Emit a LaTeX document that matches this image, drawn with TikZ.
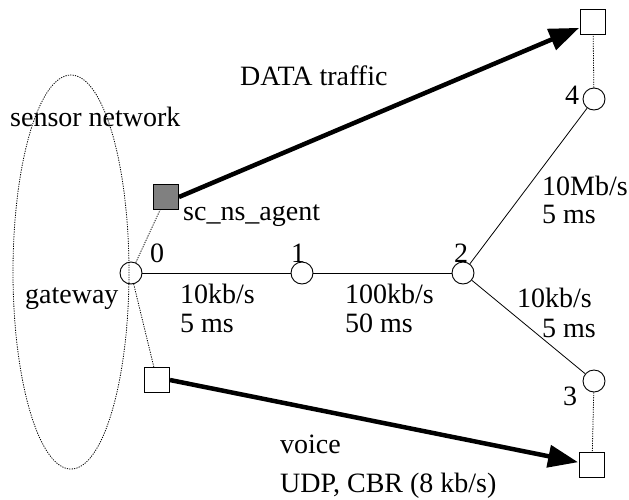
\documentclass[tikz,border=0pt]{standalone}
\usepackage{fontspec}
\setmainfont{Liberation Serif}
\usetikzlibrary{arrows.meta}
\begin{document}
\begin{tikzpicture}[x=1pt,y=-1pt,
  every node/.style={font=\fontsize{28}{30}\selectfont},
  router/.style={draw,circle,minimum size=22pt,inner sep=0pt,line width=0.9pt},
  agent/.style={draw,rectangle,minimum size=25pt,inner sep=0pt,line width=0.9pt},
  lbl/.style={inner sep=0pt,anchor=base west},
  link/.style={line width=0.8pt},
  dots/.style={dash pattern=on 1.2pt off 1.2pt,line width=0.8pt},
  flow/.style={line width=4.5pt,-{Triangle[length=30pt,width=22pt]},shorten >=1pt}]
\useasboundingbox (0,0) rectangle (629,499);
% sensor network ellipse
\draw[dots] (71,272) ellipse [x radius=58, y radius=197];
% routers
\node[router] (n0) at (131,273) {};
\node[router] (n1) at (302,273) {};
\node[router] (n2) at (463,273) {};
\node[router] (n3) at (594,381) {};
\node[router] (n4) at (594,99) {};
% agents
\node[agent,fill=black!50] (sA) at (166,197) {};
\node[agent] (sV) at (157,380) {};
\node[agent] (sD) at (593,22) {};
\node[agent] (sB) at (592,465) {};
% links
\draw[link] (n0) -- (n1);
\draw[link] (n1) -- (n2);
\draw[link] (n2) -- (n4);
\draw[link] (n2) -- (n3);
\draw[dots] (n0) -- (sA);
\draw[dots] (n0) -- (sV);
\draw[dots] (n4) -- (sD);
\draw[dots] (n3) -- (sB);
% flows
\draw[flow] (sA.east) -- (sD);
\draw[flow] (sV.east) -- (sB);
% labels
\node[lbl] (tData) at (240,85) {DATA traffic};
\node[lbl] (tSens) at (10,126) {sensor network};
\node[lbl] (tAg) at (183,220) {sc\_ns\_agent};
\node[lbl] (tGw) at (25,303) {gateway};
\node[lbl] (l0) at (150,262) {0};
\node[lbl] (l1) at (291,262) {1};
\node[lbl] (l2) at (454,262) {2};
\node[lbl] (l3) at (563,405) {3};
\node[lbl] (l4) at (565,104) {4};
\node[lbl] (b01a) at (180,303) {10kb/s};
\node[lbl] (b01b) at (180,332) {5 ms};
\node[lbl] (b12a) at (345,303) {100kb/s};
\node[lbl] (b12b) at (345,332) {50 ms};
\node[lbl] (b23a) at (517,307) {10kb/s};
\node[lbl] (b23b) at (542,337) {5 ms};
\node[lbl] (b24a) at (542,195) {10Mb/s};
\node[lbl] (b24b) at (542,223) {5 ms};
\node[lbl] (tVoice) at (280,453) {voice};
\node[lbl] (tUdp) at (280,492) {UDP, CBR (8 kb/s)};
\end{tikzpicture}
\end{document}
